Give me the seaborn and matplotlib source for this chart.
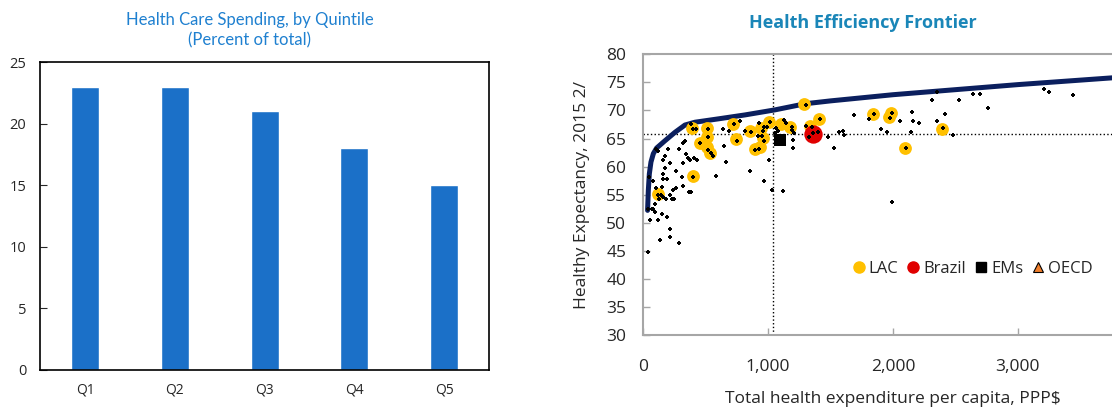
import seaborn as sns
import matplotlib.pyplot as plt
from matplotlib.lines import Line2D
import pandas as pd

# Left panel: health care spending by quintile
quintiles = ['Q1', 'Q2', 'Q3', 'Q4', 'Q5']
spending = [23, 23, 21, 18, 15]

# Right panel: health efficiency frontier
frontier_x = [37, 43, 51, 64, 83, 109, 176, 256, 336, 416, 603, 816, 1056,
              1301, 1500, 2000, 2500, 3000, 3500, 4000]
frontier_y = [52.2, 55.8, 58.7, 60.8, 62.3, 63.3, 64.6, 66.1, 67.4, 67.9, 68.5,
              69.2, 70.1, 71.2, 71.7, 72.8, 73.7, 74.6, 75.4, 76.2]

lac_x = [118, 399, 393, 511, 511, 455, 511, 539, 717, 745, 857, 899, 933, 947,
         961, 1012, 1107, 1177, 1290, 1340, 1405, 1841, 1967, 1981, 2099, 2389]
lac_y = [55.2, 58.3, 66.8, 66.8, 65.2, 64.2, 63.5, 62.4, 67.6, 64.9, 66.3, 63.1,
         63.5, 66.8, 65.1, 68.0, 67.6, 67.0, 71.1, 67.3, 68.4, 69.3, 68.8, 69.6,
         63.3, 66.7]

brazil_x = [1360]
brazil_y = [65.8]
ems_x = [1096]
ems_y = [64.7]

dots_x = [37, 59, 37, 51, 83, 101, 123, 128, 96, 83, 70, 96, 123, 149, 189, 136,
          216, 216, 291, 149, 163, 195, 163, 176, 141, 163, 184, 216, 229, 248,
          237, 264, 216, 163, 176, 197, 123, 104, 264, 309, 317, 368, 381, 291,
          323, 336, 341, 363, 376, 408, 435, 317, 403, 584, 661, 651, 640, 688,
          728, 749, 776, 816, 856, 971, 1011, 1029, 403, 421, 381, 517, 517, 456,
          523, 544, 563, 864, 899, 931, 917, 949, 963, 989, 1016, 928, 968, 968,
          1301, 2309, 2349, 2149, 2157, 2211, 2056, 2144, 2104, 1989, 1851, 1811,
          1979, 1995, 1901, 1955, 1688, 1571, 1597, 1611, 1483, 1531, 1416, 1355,
          1403, 1363, 1331, 1301, 1203, 1203, 1211, 1189, 1189, 1128, 1144, 1064,
          1083, 1056, 1123, 2531, 2643, 2696, 2763, 3208, 3245, 3437, 2413, 2349,
          2403, 2477]
dots_y = [52.5, 50.4, 44.8, 58.1, 57.4, 56.2, 55.0, 54.3, 53.3, 52.5, 52.5, 51.9,
          50.4, 51.5, 51.0, 47.0, 48.8, 47.5, 46.4, 56.4, 57.7, 57.7, 58.7, 59.8,
          54.9, 54.6, 54.2, 54.9, 54.2, 54.2, 55.8, 56.1, 60.6, 61.1, 61.8, 63.2,
          62.8, 63.2, 59.3, 58.1, 56.5, 55.5, 55.5, 63.2, 64.2, 64.5, 62.2, 61.6,
          61.1, 61.6, 61.1, 60.6, 58.1, 58.4, 60.9, 63.6, 66.7, 66.4, 67.5, 64.6,
          68.1, 66.3, 59.2, 57.4, 61.2, 55.9, 66.7, 66.7, 67.5, 66.7, 65.2, 64.2,
          62.9, 62.4, 61.8, 66.1, 63.0, 63.2, 65.5, 65.4, 66.4, 67.0, 67.9, 67.7,
          64.5, 67.1, 71.0, 71.8, 73.3, 69.8, 68.1, 67.8, 68.1, 66.1, 63.3, 53.7,
          69.3, 68.4, 68.7, 69.6, 66.7, 66.1, 69.1, 66.1, 66.4, 65.6, 65.3, 63.3,
          68.4, 67.0, 66.2, 65.9, 65.3, 67.3, 64.7, 63.3, 65.9, 67.1, 66.5, 68.3,
          67.7, 66.9, 66.4, 65.9, 55.7, 71.9, 73.0, 73.0, 70.4, 73.9, 73.3, 72.7,
          69.4, 68.2, 66.8, 65.6]

ref_x = 1040
ref_y = 65.8

sns.set_style("white")
plt.rcParams['font.family'] = ['Open Sans', 'DejaVu Sans']

fig = plt.figure(figsize=(11.12, 4.11), dpi=100)

# ---- left bar chart
ax1 = fig.add_axes([0.0362, 0.0998, 0.4035, 0.749])
sns.barplot(x=quintiles, y=spending, color='#1b70c8', width=0.31, saturation=1,
            ax=ax1)
ax1.set_ylim(0, 25)
ax1.set_yticks([0, 5, 10, 15, 20, 25])
ax1.set_xlabel('')
ax1.set_ylabel('')
for s in ax1.spines.values():
    s.set_color('black')
    s.set_linewidth(1.2)
ax1.tick_params(axis='y', direction='in', length=5, width=0.8, pad=10,
                labelsize=10.5, left=True)
ax1.tick_params(axis='x', length=0, pad=9, labelsize=10)
fig.text(0.2248, 0.927, 'Health Care Spending, by Quintile\n(Percent of total)',
         ha='center', va='center', fontsize=12, color='#1f80d0',
         family=['Lato', 'DejaVu Sans'], linespacing=1.3)

# ---- right scatter chart (runs past the right edge like the source)
ax2 = fig.add_axes([0.5782, 0.1849, 0.4496, 0.683])
ax2.axvline(ref_x, color='black', linestyle=':', linewidth=1, zorder=1)
ax2.axhline(ref_y, color='black', linestyle=':', linewidth=1, zorder=1)
sns.lineplot(x=frontier_x, y=frontier_y, sort=False, color='#0b1f5e',
             linewidth=3.6, ax=ax2, zorder=2)
sns.scatterplot(x=lac_x, y=lac_y, color='#ffc000', s=85, linewidth=0,
                ax=ax2, zorder=3)
sns.scatterplot(x=brazil_x, y=brazil_y, color='#e00000', s=175, linewidth=0,
                ax=ax2, zorder=4)
sns.scatterplot(x=ems_x, y=ems_y, color='black', marker='s', s=75, linewidth=0,
                ax=ax2, zorder=4)
sns.scatterplot(x=dots_x, y=dots_y, color='black', marker='P', s=8,
                linewidth=0, ax=ax2, zorder=5)

ax2.set_xlim(0, 4000)
ax2.set_ylim(30, 80)
ax2.set_xticks([0, 1000, 2000, 3000])
ax2.set_xticklabels(['0', '1,000', '2,000', '3,000'])
ax2.set_yticks(range(30, 81, 5))
for s in ax2.spines.values():
    s.set_color('#a6a6a6')
    s.set_linewidth(1.5)
ax2.tick_params(axis='both', direction='in', length=5, width=1,
                color='#a6a6a6', labelsize=12.5)
ax2.tick_params(axis='y', pad=12, left=True)
ax2.tick_params(axis='x', pad=17, bottom=True)
ax2.set_xlabel('Total health expenditure per capita, PPP$', fontsize=12.5,
               labelpad=12)
ax2.set_ylabel('Healthy Expectancy, 2015 2/', fontsize=12.5, labelpad=12)
fig.text(0.776, 0.945, 'Health Efficiency Frontier', ha='center', va='center',
         fontsize=13, fontweight='bold', color='#1a86b8')

handles = [
    Line2D([], [], marker='o', linestyle='', color='#ffc000', markersize=8),
    Line2D([], [], marker='o', linestyle='', color='#e00000', markersize=8),
    Line2D([], [], marker='s', linestyle='', color='black', markersize=7.5),
    Line2D([], [], marker='^', linestyle='', markerfacecolor='#f07f2c',
           markeredgecolor='black', markeredgewidth=0.8, markersize=7),
]
fig.legend(handles, ['LAC', 'Brazil', 'EMs', 'OECD'], loc='center left',
           bbox_to_anchor=(0.767, 0.346), ncol=4, frameon=False, fontsize=12,
           handlelength=0.7, handletextpad=0.25, columnspacing=0.55,
           borderpad=0, borderaxespad=0)

fig.savefig('out.png', dpi=100)
